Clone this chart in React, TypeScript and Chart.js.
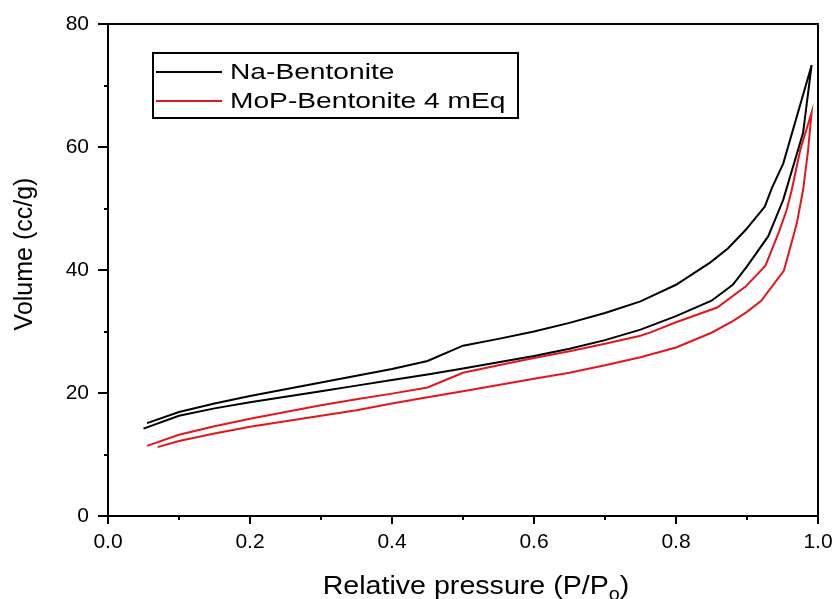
import React, { useEffect, useRef } from "react";
import { Chart, registerables } from "chart.js";

Chart.register(...registerables);

// Na-Bentonite: adsorption branch (low -> high P/Po), then desorption branch (high -> low)
const naAdsP = [0.05, 0.1, 0.15, 0.2, 0.25, 0.3, 0.35, 0.4, 0.45, 0.5, 0.55, 0.6, 0.65, 0.7, 0.75, 0.8, 0.85, 0.88, 0.9, 0.93, 0.951, 0.979, 0.991];
const naAdsV = [14.2, 16.3, 17.5, 18.5, 19.4, 20.3, 21.2, 22.1, 23.0, 24.0, 25.0, 26.0, 27.2, 28.6, 30.3, 32.5, 35.0, 37.6, 40.6, 45.5, 51.4, 62.3, 73.3];
const naDesP = [0.991, 0.951, 0.935, 0.925, 0.898, 0.873, 0.848, 0.8, 0.765, 0.75, 0.7, 0.65, 0.6, 0.55, 0.5, 0.45, 0.4, 0.35, 0.3, 0.25, 0.2, 0.15, 0.1, 0.055];
const naDesV = [73.3, 57.3, 53.3, 50.3, 46.5, 43.5, 41.2, 37.6, 35.7, 34.9, 33.0, 31.4, 30.0, 28.8, 27.7, 25.2, 23.9, 22.8, 21.7, 20.6, 19.5, 18.3, 16.9, 15.1];

// MoP-Bentonite 4 mEq
const mopAdsP = [0.07, 0.1, 0.15, 0.2, 0.25, 0.3, 0.35, 0.4, 0.45, 0.5, 0.55, 0.6, 0.65, 0.7, 0.75, 0.8, 0.85, 0.88, 0.9, 0.92, 0.952, 0.97, 0.979, 0.986, 0.991];
const mopAdsV = [11.2, 12.2, 13.4, 14.5, 15.4, 16.3, 17.2, 18.3, 19.3, 20.3, 21.3, 22.3, 23.3, 24.5, 25.8, 27.4, 29.8, 31.7, 33.2, 35.0, 39.9, 47.5, 53.0, 59.4, 65.6];
const mopDesP = [0.991, 0.975, 0.963, 0.956, 0.945, 0.926, 0.898, 0.858, 0.8, 0.765, 0.75, 0.7, 0.65, 0.6, 0.55, 0.5, 0.45, 0.4, 0.35, 0.3, 0.25, 0.2, 0.15, 0.1, 0.055];
const mopDesV = [65.6, 59.5, 53.0, 49.8, 46.2, 40.7, 37.3, 33.9, 31.5, 29.9, 29.3, 28.0, 26.8, 25.7, 24.5, 23.3, 20.9, 19.9, 19.0, 18.0, 16.9, 15.8, 14.6, 13.2, 11.4];

const seriesLabels = ["Na-Bentonite", "MoP-Bentonite 4 mEq"];
const seriesColors = ["#000000", "#e3161b"];

const xMajorTicks = [0, 0.2, 0.4, 0.6, 0.8, 1.0];
const xMinorTicks = [0.1, 0.3, 0.5, 0.7, 0.9];
const yMajorTicks = [0, 20, 40, 60, 80];
const yMinorTicks = [10, 30, 50, 70];

const xTitle = "Relative pressure (P/P";
const xTitleSub = "o";
const xTitleEnd = ")";
const yTitle = "Volume (cc/g)";

const FONT = "'Liberation Sans', Arial, sans-serif";

function pts(px: number[], vy: number[]) {
  return px.map((p, i) => ({ x: p, y: vy[i] }));
}

const framePlugin = {
  id: "frame",
  afterDraw(chart: any) {
    const { ctx, chartArea, scales } = chart;
    const { left, right, top, bottom } = chartArea;
    const xs = scales.x;
    const ys = scales.y;
    ctx.save();
    ctx.strokeStyle = "#000";
    ctx.lineWidth = 2;
    ctx.lineCap = "butt";
    ctx.strokeRect(left, top, right - left, bottom - top);
    ctx.beginPath();
    xMajorTicks.forEach((v) => {
      const p = Math.round(xs.getPixelForValue(v));
      ctx.moveTo(p, bottom);
      ctx.lineTo(p, bottom + 8);
    });
    xMinorTicks.forEach((v) => {
      const p = Math.round(xs.getPixelForValue(v));
      ctx.moveTo(p, bottom);
      ctx.lineTo(p, bottom + 4);
    });
    yMajorTicks.forEach((v) => {
      const p = Math.round(ys.getPixelForValue(v));
      ctx.moveTo(left, p);
      ctx.lineTo(left - 10, p);
    });
    yMinorTicks.forEach((v) => {
      const p = Math.round(ys.getPixelForValue(v));
      ctx.moveTo(left, p);
      ctx.lineTo(left - 4, p);
    });
    ctx.stroke();

    // x title with subscript (slightly widened like the source image)
    ctx.fillStyle = "#000";
    ctx.textBaseline = "alphabetic";
    ctx.textAlign = "left";
    const bigFont = `26px ${FONT}`;
    const subFont = `18px ${FONT}`;
    ctx.font = bigFont;
    const w1 = ctx.measureText(xTitle).width;
    const w3 = ctx.measureText(xTitleEnd).width;
    ctx.font = subFont;
    const w2 = ctx.measureText(xTitleSub).width;
    const sx = 1.1;
    const total = (w1 + w2 + w3) * sx;
    const cx = 476;
    const baseY = 594;
    ctx.save();
    ctx.translate(cx - total / 2, baseY);
    ctx.scale(sx, 1);
    ctx.font = bigFont;
    ctx.fillText(xTitle, 0, 0);
    ctx.font = subFont;
    ctx.fillText(xTitleSub, w1, 6);
    ctx.font = bigFont;
    ctx.fillText(xTitleEnd, w1 + w2, 0);
    ctx.restore();

    // y title
    ctx.save();
    ctx.translate(25, 254);
    ctx.rotate(-Math.PI / 2);
    ctx.textAlign = "center";
    ctx.textBaseline = "middle";
    ctx.font = `25px ${FONT}`;
    ctx.fillText(yTitle, 0, 0);
    ctx.restore();

    // legend
    const lx = 153;
    const ly = 53;
    ctx.lineWidth = 2;
    ctx.strokeStyle = "#000";
    ctx.strokeRect(lx, ly, 365, 65);
    const rowY = [ly + 19, ly + 48];
    chart.data.datasets.forEach((ds: any, i: number) => {
      ctx.strokeStyle = ds.borderColor;
      ctx.lineWidth = 2;
      ctx.beginPath();
      ctx.moveTo(lx + 3, rowY[i]);
      ctx.lineTo(lx + 69, rowY[i]);
      ctx.stroke();
      ctx.save();
      ctx.translate(lx + 77, rowY[i] + 1);
      ctx.scale(1.28, 1);
      ctx.fillStyle = "#000";
      ctx.font = `22px ${FONT}`;
      ctx.textAlign = "left";
      ctx.textBaseline = "middle";
      ctx.fillText(ds.label, 0, 0);
      ctx.restore();
    });
    ctx.restore();
  },
};

function zeroPad(s: any) {
  s.paddingTop = 0;
  s.paddingBottom = 0;
  s.paddingLeft = 0;
  s.paddingRight = 0;
}

export default function App() {
  const canvasRef = useRef<HTMLCanvasElement | null>(null);

  useEffect(() => {
    const canvas = canvasRef.current;
    if (!canvas) return;
    const chart = new Chart(canvas, {
      type: "line",
      data: {
        datasets: [
          {
            label: seriesLabels[0],
            data: [...pts(naAdsP, naAdsV), ...pts(naDesP, naDesV)],
            borderColor: seriesColors[0],
            backgroundColor: seriesColors[0],
            borderWidth: 2,
            pointRadius: 0,
            tension: 0,
            fill: false,
          },
          {
            label: seriesLabels[1],
            data: [...pts(mopAdsP, mopAdsV), ...pts(mopDesP, mopDesV)],
            borderColor: seriesColors[1],
            backgroundColor: seriesColors[1],
            borderWidth: 2,
            pointRadius: 0,
            tension: 0,
            fill: false,
          },
        ],
      },
      options: {
        animation: false,
        responsive: true,
        maintainAspectRatio: false,
        layout: { padding: { left: 0, right: 18, top: 24, bottom: 0 } },
        plugins: { legend: { display: false }, tooltip: { enabled: false } },
        scales: {
          x: {
            type: "linear",
            min: 0,
            max: 1,
            grid: { display: false, drawTicks: false },
            border: { display: false },
            ticks: {
              stepSize: 0.2,
              padding: 14,
              color: "#000",
              font: { family: FONT, size: 21 },
              callback: (v: any) => Number(v).toFixed(1),
              maxRotation: 0,
            },
            afterFit: (s: any) => {
              s.height = 83;
              zeroPad(s);
            },
          },
          y: {
            type: "linear",
            min: 0,
            max: 80,
            grid: { display: false, drawTicks: false },
            border: { display: false },
            ticks: {
              stepSize: 20,
              padding: 19,
              color: "#000",
              font: { family: FONT, size: 21 },
            },
            afterFit: (s: any) => {
              s.width = 108;
              zeroPad(s);
            },
          },
        },
      },
      plugins: [framePlugin],
    });
    return () => chart.destroy();
  }, []);

  return (
    <div style={{ position: "absolute", left: 0, top: 0, width: 836, height: 599, background: "#fff" }}>
      <canvas ref={canvasRef} />
    </div>
  );
}
